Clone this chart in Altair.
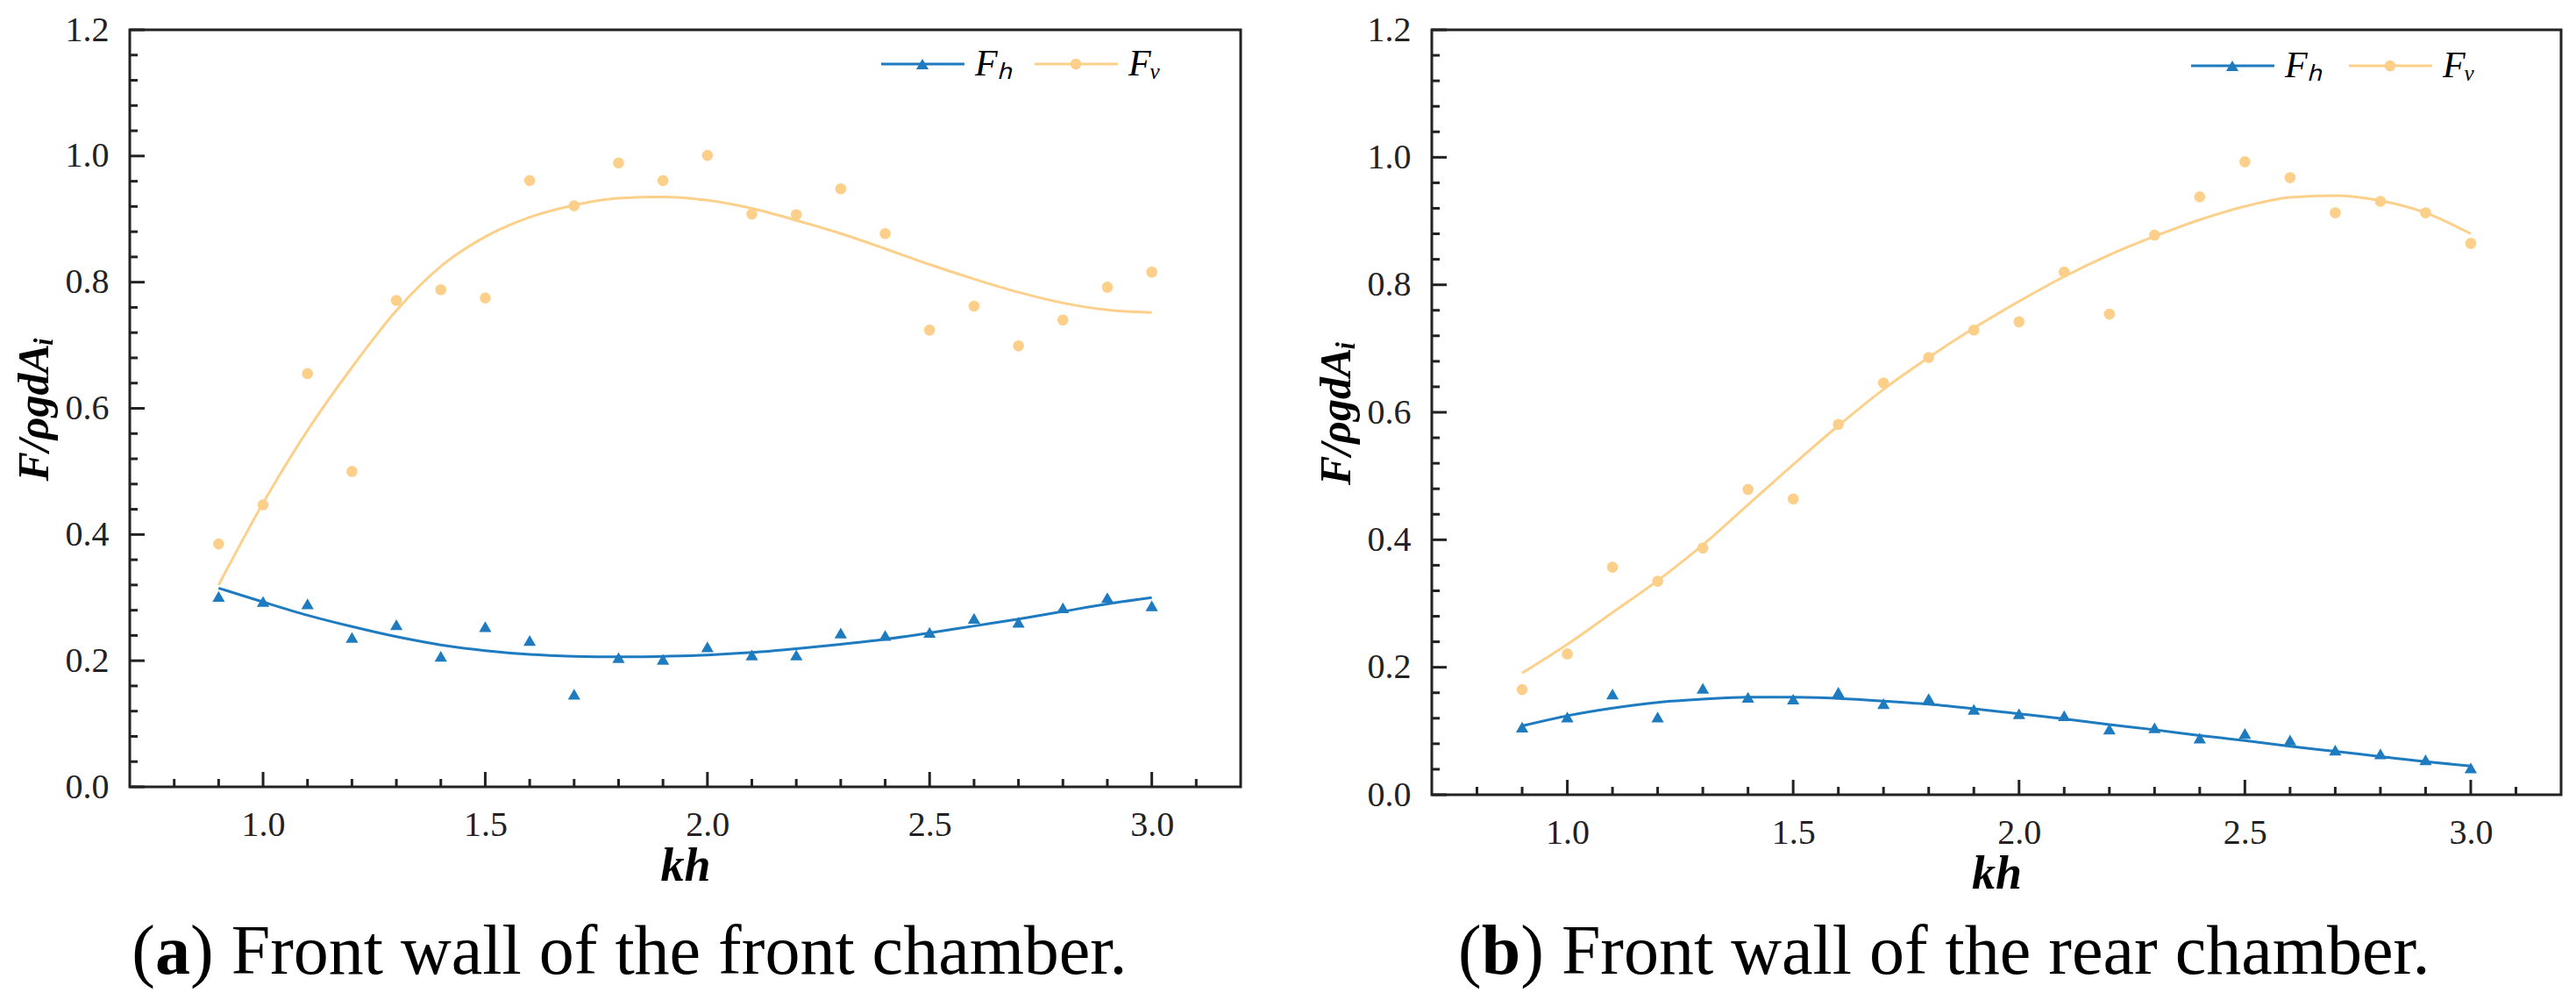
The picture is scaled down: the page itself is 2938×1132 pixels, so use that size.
import altair as alt
import pandas as pd

# kh values shared by both panels
kh = [0.9, 1.0, 1.1, 1.2, 1.3, 1.4, 1.5, 1.6, 1.7, 1.8, 1.9, 2.0,
      2.1, 2.2, 2.3, 2.4, 2.5, 2.6, 2.7, 2.8, 2.9, 3.0]

# (a) front wall of the front chamber
front_fh = [0.302, 0.294, 0.290, 0.237, 0.257, 0.207, 0.254, 0.232, 0.147, 0.205, 0.202,
            0.222, 0.209, 0.209, 0.244, 0.240, 0.245, 0.267, 0.261, 0.284, 0.300, 0.287]
front_fv = [0.385, 0.447, 0.655, 0.500, 0.771, 0.788, 0.775, 0.961, 0.921, 0.989, 0.961,
            1.001, 0.908, 0.907, 0.948, 0.877, 0.724, 0.762, 0.699, 0.740, 0.792, 0.816]
front_fh_fit = [0.315, 0.293, 0.272, 0.254, 0.238, 0.225, 0.216, 0.210, 0.207, 0.206, 0.207,
                0.209, 0.213, 0.219, 0.226, 0.234, 0.244, 0.255, 0.266, 0.278, 0.290, 0.300]
front_fv_fit = [0.320, 0.450, 0.565, 0.665, 0.755, 0.825, 0.872, 0.903, 0.922, 0.933, 0.935,
                0.930, 0.917, 0.898, 0.877, 0.853, 0.828, 0.805, 0.784, 0.767, 0.756, 0.752]

# (b) front wall of the rear chamber
rear_fh = [0.106, 0.122, 0.158, 0.122, 0.167, 0.153, 0.150, 0.161, 0.143, 0.151, 0.134,
           0.127, 0.124, 0.103, 0.105, 0.089, 0.096, 0.086, 0.070, 0.064, 0.055, 0.042]
rear_fv = [0.165, 0.221, 0.357, 0.335, 0.387, 0.479, 0.464, 0.581, 0.646, 0.686, 0.729,
           0.742, 0.820, 0.754, 0.878, 0.938, 0.993, 0.968, 0.913, 0.931, 0.913, 0.865]
rear_fh_fit = [0.108, 0.124, 0.136, 0.145, 0.150, 0.153, 0.153, 0.151, 0.147, 0.142, 0.135,
               0.127, 0.119, 0.110, 0.102, 0.093, 0.085, 0.076, 0.068, 0.060, 0.052, 0.045]
rear_fv_fit = [0.191, 0.236, 0.286, 0.336, 0.392, 0.455, 0.518, 0.579, 0.636, 0.686, 0.732,
               0.774, 0.813, 0.847, 0.876, 0.902, 0.923, 0.937, 0.940, 0.932, 0.913, 0.880]

series = ["Fₕ", "Fᵥ"]
colors = ["#1f7bbf", "#fcd08a"]
shapes = ["triangle-up", "circle"]
marker_sizes = [200, 160]

x_major = [1.0, 1.5, 2.0, 2.5, 3.0]
x_minor = [0.8, 0.9, 1.1, 1.2, 1.3, 1.4, 1.6, 1.7, 1.8, 1.9, 2.1, 2.2, 2.3, 2.4,
           2.6, 2.7, 2.8, 2.9, 3.1]
y_major = [0.0, 0.2, 0.4, 0.6, 0.8, 1.0, 1.2]
y_minor = [0.04, 0.08, 0.12, 0.16, 0.24, 0.28, 0.32, 0.36, 0.44, 0.48, 0.52, 0.56,
           0.64, 0.68, 0.72, 0.76, 0.84, 0.88, 0.92, 0.96, 1.04, 1.08, 1.12, 1.16]

# sub-figure captions: "(", bold letter, rest
caption_a = ["(", "a", ") Front wall of the front chamber."]
caption_b = ["(", "b", ") Front wall of the rear chamber."]

SERIF = "Liberation Serif"
INK = "#222222"
CAP_SIZE = 80


def key(i, x0, y0):
    """One legend entry: short line, marker on it, italic label."""
    d = pd.DataFrame({"s": [series[i]]})
    seg = alt.Chart(d).mark_rule(color=colors[i], strokeWidth=3).encode(
        x=alt.value(x0), x2=alt.value(x0 + 95), y=alt.value(y0))
    mk = alt.Chart(d).mark_point(shape=shapes[i], filled=True, opacity=1,
                                 size=marker_sizes[i], color=colors[i]).encode(
        x=alt.value(x0 + 47), y=alt.value(y0))
    lab = alt.Chart(d).mark_text(align="left", baseline="middle", font=SERIF, fontSize=42,
                                 fontStyle="italic", color="black").encode(
        x=alt.value(x0 + 107), y=alt.value(y0), text="s:N")
    return [seg, mk, lab]


def caption_marks(parts, xc, bold_w, y0):
    """Caption under the panel, with the bold sub-figure letter centred at xc."""
    half = bold_w * CAP_SIZE / 2
    specs = [(parts[0], "right", "normal", xc - half),
             (parts[1], "center", "bold", xc),
             (parts[2], "left", "normal", xc + half)]
    out = []
    for txt, al, wt, xx in specs:
        out.append(alt.Chart(pd.DataFrame({"t": [txt]})).mark_text(
            align=al, baseline="alphabetic", font=SERIF, fontSize=CAP_SIZE,
            fontWeight=wt, color="black").encode(
            x=alt.value(xx), y=alt.value(y0), text="t:N"))
    return out


def panel(fh, fv, fh_fit, fv_fit, caption, cap_xc, bold_w, w, h, keys_x, key_y):
    xs = alt.Scale(domain=[0.7, 3.2], nice=False, zero=False)
    ys = alt.Scale(domain=[0.0, 1.2], nice=False)
    common = dict(domain=False, ticks=False, tickSize=0, grid=False,
                  labelFont=SERIF, labelFontSize=40, labelColor=INK,
                  titleFont=SERIF, titleFontStyle="italic", titleFontWeight="bold",
                  titleColor="black")
    xaxis = alt.Axis(values=x_major, format=".1f", title="kh", labelPadding=23,
                     titlePadding=0, titleFontSize=54, **common)
    yaxis = alt.Axis(values=y_major, format=".1f", title="F/ρgdAᵢ", labelPadding=24,
                     titlePadding=10, titleFontSize=50, **common)

    def X(f):
        return alt.X(f"{f}:Q", scale=xs, axis=xaxis)

    def Y(f):
        return alt.Y(f"{f}:Q", scale=ys, axis=yaxis)

    fit = pd.DataFrame({
        "kh": kh + kh,
        "F": fh_fit + fv_fit,
        "series": [series[0]] * len(kh) + [series[1]] * len(kh),
    })
    pts_h = pd.DataFrame({"kh": kh, "F": fh})
    pts_v = pd.DataFrame({"kh": kh, "F": fv})

    lines = alt.Chart(fit).mark_line(interpolate="monotone", strokeWidth=3).encode(
        x=X("kh"), y=Y("F"),
        color=alt.Color("series:N", scale=alt.Scale(domain=series, range=colors), legend=None),
    )
    tri = alt.Chart(pts_h).mark_point(shape=shapes[0], filled=True, size=marker_sizes[0],
                                      opacity=1, color=colors[0]).encode(x=X("kh"), y=Y("F"))
    dots = alt.Chart(pts_v).mark_point(shape=shapes[1], filled=True, size=marker_sizes[1],
                                       opacity=1, color=colors[1]).encode(x=X("kh"), y=Y("F"))

    xt_major = alt.Chart(pd.DataFrame({"t": x_major})).mark_rule(color=INK, strokeWidth=3).encode(
        x=X("t"), y=alt.value(h), y2=alt.value(h - 17))
    xt_minor = alt.Chart(pd.DataFrame({"t": x_minor})).mark_rule(color=INK, strokeWidth=3).encode(
        x=X("t"), y=alt.value(h), y2=alt.value(h - 9))
    yt_major = alt.Chart(pd.DataFrame({"t": y_major})).mark_rule(color=INK, strokeWidth=3).encode(
        y=Y("t"), x=alt.value(0), x2=alt.value(17))
    yt_minor = alt.Chart(pd.DataFrame({"t": y_minor})).mark_rule(color=INK, strokeWidth=3).encode(
        y=Y("t"), x=alt.value(0), x2=alt.value(9))

    legend = key(0, keys_x[0], key_y) + key(1, keys_x[1], key_y)
    cap = caption_marks(caption, cap_xc, bold_w, 1076)

    return alt.layer(lines, tri, dots, xt_major, xt_minor, yt_major, yt_minor,
                     *legend, *cap).properties(width=w, height=h)


left = panel(front_fh, front_fv, front_fh_fit, front_fv_fit, caption_a, 49, 0.5,
             1267, 863, (857, 1032), 39)
right = panel(rear_fh, rear_fv, rear_fh_fit, rear_fv_fit, caption_b, 79, 0.556,
              1288, 872, (866, 1046), 41)

chart = alt.hconcat(left, right, spacing=80).properties(
    padding={"left": 4, "top": 4, "right": 0, "bottom": 0}
).configure_view(
    stroke=INK, strokeWidth=3
)

chart.save("out.html", embed_options={"renderer": "svg", "actions": False})
